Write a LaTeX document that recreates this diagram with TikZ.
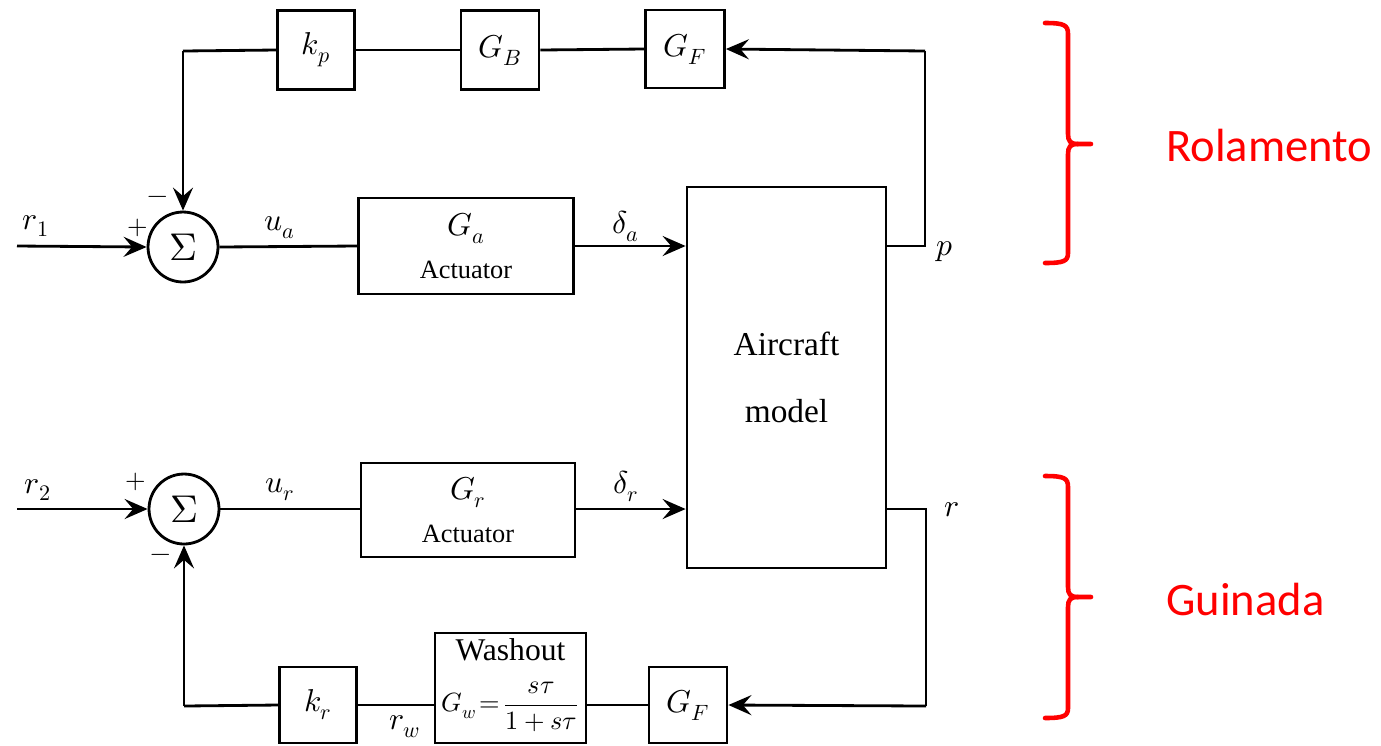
\documentclass[tikz,border=0pt]{standalone}
\usepackage{fontspec}
\usepackage{unicode-math}
\setmainfont{Liberation Serif}
\newfontfamily\calfont{Carlito}
\usetikzlibrary{arrows.meta}
\begin{document}
\begin{tikzpicture}[x=0.02cm,y=-0.02cm,
  blk/.style={draw, line width=1.6pt, inner sep=0pt, align=center, font=\fontsize{18}{20}\selectfont},
  sumnode/.style={circle, draw, line width=1.6pt, minimum size=1.4cm, inner sep=0pt, font=\fontsize{22}{24}\selectfont},
  conn/.style={line width=1.6pt},
  arr/.style={conn, -{Stealth[length=0.46cm,width=0.4cm,inset=0.17cm]}},
  lbl/.style={inner sep=0pt, font=\fontsize{18}{20}\selectfont},
  sgn/.style={inner sep=0pt, font=\fontsize{15}{16}\selectfont},
  brace/.style={draw=red, line width=2.6pt, line cap=round},
  redtxt/.style={text=red, inner sep=0pt, font=\calfont\fontsize{26.5}{30}\selectfont}
]
\useasboundingbox (0,0) rectangle (1381,745);

% top path blocks
\node[blk, minimum width=1.54cm, minimum height=1.58cm] (kp) at (316,50) {$k_p$};
\node[blk, minimum width=1.56cm, minimum height=1.58cm] (GB) at (500,50) {$G_B$};
\node[blk, minimum width=1.58cm, minimum height=1.56cm] (GFt) at (685,49) {$G_F$};

% summing junctions
\node[sumnode] (s1) at (183,247) {$\Sigma$};
\node[sumnode] (s2) at (184,509) {$\Sigma$};

% actuators
\node[blk, minimum width=4.3cm, minimum height=1.92cm] (Ga) at (466,246)
  {$G_a$\\[4pt]{\fontsize{15}{16}\selectfont Actuator}};
\node[blk, minimum width=4.28cm, minimum height=1.88cm] (Gr) at (468,510)
  {$G_r$\\[4pt]{\fontsize{15}{16}\selectfont Actuator}};

% aircraft
\node[blk, minimum width=3.98cm, minimum height=7.62cm, font=\fontsize{19}{38}\selectfont] (AC) at (786.5,377.5)
  {Aircraft\\model};

% bottom path blocks
\node[blk, minimum width=1.54cm, minimum height=1.52cm] (kr) at (318,705) {$k_r$};
\node[blk, minimum width=3.02cm, minimum height=2.2cm] (W) at (510.5,688) {};
\node[inner sep=0pt, font=\fontsize{18}{20}\selectfont] (Wt) at (510.5,650) {Washout};
\node[inner sep=0pt, font=\fontsize{15}{17}\selectfont] (Wf) at (510.5,707)
  {$G_w\!=\!\dfrac{s\tau}{1+s\tau}$};
\node[blk, minimum width=1.56cm, minimum height=1.52cm] (GFb) at (688,705) {$G_F$};

% coordinates
\coordinate (in1) at (17,246);
\coordinate (in2) at (17,509);
\coordinate (pc) at (925,246);
\coordinate (pt) at (925,51);
\coordinate (fb1) at (183,51);
\coordinate (rc) at (926,509);
\coordinate (rb) at (926,706);
\coordinate (fb2) at (184,706);

% roll channel
\draw[arr] (in1) -- (s1.west);
\draw[conn] (s1.east) -- (Ga.west);
\draw[arr] (Ga.east) -- (Ga.east -| AC.west);
\draw[conn] (AC.east |- pc) -- (pc) -- (pt);
\draw[arr] (pt) -- (GFt.east);
\draw[conn] (GFt.west) -- (GB.east);
\draw[conn] (GB.west) -- (kp.east);
\draw[conn] (kp.west) -- (fb1);
\draw[arr] (fb1) -- (s1.north);

% yaw channel
\draw[arr] (in2) -- (s2.west);
\draw[conn] (s2.east) -- (s2.east -| Gr.west);
\draw[arr] (Gr.east |- s2.east) -- (s2.east -| AC.west);
\draw[conn] (AC.east |- rc) -- (rc) -- (rb);
\draw[arr] (rb) -- (GFb.east);
\draw[conn] (GFb.west) -- (GFb.west -| W.east);
\draw[conn] (W.west |- kr.west) -- (kr.east);
\draw[conn] (kr.west) -- (fb2);
\draw[arr] (fb2) -- (s2.south);

% labels
\node[lbl] (lr1) at (36,226) {$r_1$};
\node[sgn] (lp1) at (138,228) {$+$};
\node[sgn] (lm1) at (158,200) {$-$};
\node[lbl] (lua) at (280,228) {$u_a$};
\node[lbl] (lda) at (626,226) {$\delta_a$};
\node[lbl] (lp) at (945,252) {$p$};

\node[lbl] (lr2) at (38,490) {$r_2$};
\node[sgn] (lp2) at (136,482) {$+$};
\node[sgn] (lm2) at (161,558) {$-$};
\node[lbl] (lur) at (280,490) {$u_r$};
\node[lbl] (ldr) at (626,486) {$\delta_r$};
\node[lbl] (lr) at (952,510) {$r$};
\node[lbl] (lrw) at (405,727) {$r_w$};

% red braces
\draw[brace] (1045,23) .. controls (1064,23) and (1068,25) .. (1068,34) -- (1068,134)
  .. controls (1068,141) and (1070,144) .. (1078,144) -- (1091,144);
\draw[brace] (1078,144) .. controls (1070,144) and (1068,147) .. (1068,154) -- (1068,253)
  .. controls (1068,261) and (1064,263) .. (1045,263);
\node[redtxt, anchor=west] (rol) at (1166,145) {Rolamento};

\draw[brace] (1045,476) .. controls (1064,476) and (1068,478) .. (1068,487) -- (1068,587)
  .. controls (1068,594) and (1070,597) .. (1078,597) -- (1091,597);
\draw[brace] (1078,597) .. controls (1070,597) and (1068,600) .. (1068,607) -- (1068,708)
  .. controls (1068,716) and (1064,718) .. (1045,718);
\node[redtxt, anchor=west] (gui) at (1166,599) {Guinada};
\end{tikzpicture}
\end{document}
